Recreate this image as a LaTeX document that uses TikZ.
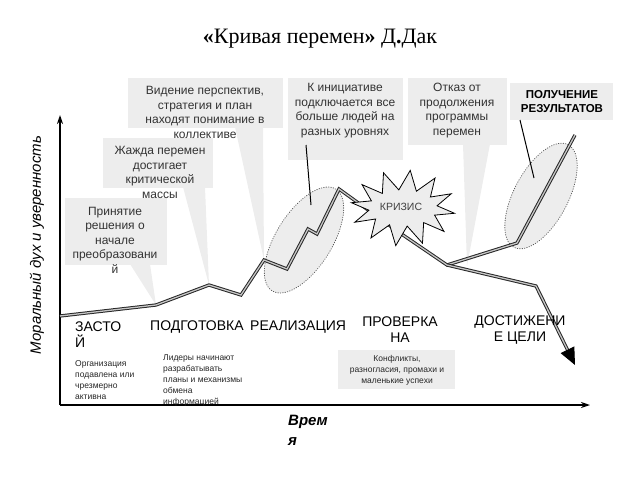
\documentclass[tikz,border=0pt]{standalone}
\usepackage{fontspec}
\setmainfont{Liberation Serif}
\setsansfont{Liberation Sans}
\usetikzlibrary{arrows.meta,calc}
\tikzset{
  callout/.style={fill=gray!14, draw=none},
  ctext/.style={font=\sffamily\fontsize{12}{14.5}\selectfont, text=black!80, align=center, inner sep=0pt},
  phase/.style={font=\sffamily\fontsize{14}{16}\selectfont, align=center, inner sep=0pt},
  smalltext/.style={font=\sffamily\fontsize{8.5}{11}\selectfont, align=left, text=black!85, inner sep=0pt},
  curveline/.style={draw=black!85, line width=1pt, double=gray!45, double distance=1.3pt, line join=miter},
  ell/.style={fill=gray!14, draw=black!65, line width=0.8pt, dash pattern=on 0.6pt off 1.8pt, line cap=round},
  pointer/.style={draw=black, line width=1pt},
  axisline/.style={line width=1.3pt, -{Stealth[length=9pt,width=6pt]}},
}
\begin{document}
\begin{tikzpicture}[x=1pt,y=-1pt]
\useasboundingbox (0,0) rectangle (640,480);
% title
\node[font=\fontsize{22}{24}\selectfont, inner sep=0pt] (title) at (320,39) {{\bfseries «}Кривая перемен{\bfseries »} Д{\bfseries .}Дак};

% curve coordinates
\coordinate (c0) at (60,316);
\coordinate (c1) at (156,305);
\coordinate (c2) at (209,285);
\coordinate (c3) at (241,295);
\coordinate (c4) at (264,260);
\coordinate (c5) at (287,269);
\coordinate (c6) at (308,229);
\coordinate (c7) at (317,234);
\coordinate (c8) at (339,189);
\coordinate (c9) at (400,233);
\coordinate (c10) at (447,265);
\coordinate (u1) at (517,243);
\coordinate (u2) at (575,135);
\coordinate (d1) at (536,286);
\coordinate (tip) at (575,365);

% callout boxes and wedges
\fill[callout] (65,198) rectangle (167,265);
\fill[callout] (103,138) rectangle (213,188);
\fill[callout] (128,78) rectangle (283,128);
\fill[callout] (288,78) rectangle (403,160);
\fill[callout] (408,78) rectangle (507,145);
\fill[callout] (510,83) rectangle (613,120);
\fill[callout] (338,350) rectangle (455,389);
\fill[callout] (130,264) -- (150,264) -- (c1) -- cycle;
\fill[callout] (183,187) -- (205,187) -- (c2) -- cycle;
\fill[callout] (235,127) -- (263,127) -- (c4) -- cycle;
\fill[callout] (463,144) -- (490,144) -- (467,266) -- cycle;

% ellipses
\draw[ell, rotate around={58:(304,240)}] (304,240) ellipse [x radius=60pt, y radius=28pt];
\draw[ell, rotate around={62:(541,196)}] (541,196) ellipse [x radius=58pt, y radius=27pt];

% axes
\coordinate (O) at (60,405);
\coordinate (ytop) at (60,115);
\coordinate (xend) at (590,405);
\draw[axisline] (O) -- (ytop);
\draw[axisline] (O) -- (xend);

% curve
\draw[curveline] (c0) -- (c1) -- (c2) -- (c3) -- (c4) -- (c5) -- (c6) -- (c7) -- (c8) -- (c9) -- (c10) -- (u1) -- (u2);
\draw[curveline] (c10) -- (d1) -- ($(tip)!14pt!(d1)$);
\draw[-{Triangle[length=17pt,width=15pt]}, line width=1pt, black] ($(tip)!16pt!(d1)$) -- (tip);

% crisis star
\draw[fill=gray!14, draw=black, line width=0.8pt, line join=miter]
  plot[samples at={0,15,...,345}, variable=\t]
  ({403 + 52*(0.83+0.17*cos(12*\t))*cos(\t+8)}, {208 + 38*(0.74+0.26*cos(12*\t))*sin(\t+8)}) -- cycle;
\node[font=\sffamily\fontsize{10.5}{12}\selectfont, text=black!75, inner sep=0pt] (crisis) at (401,207) {КРИЗИС};

% black pointer lines
\coordinate (p4a) at (306,145);
\coordinate (p4b) at (311,205);
\coordinate (p6a) at (520,120);
\coordinate (p6b) at (534,178);
\draw[pointer] (p4a) -- (p4b);
\draw[pointer] (p6a) -- (p6b);

% callout texts
\node[ctext] (t1) at (115,240) {Принятие\\решения о\\начале\\преобразовани\\й};
\node[ctext] (t2) at (160,172.5) {Жажда перемен\\достигает\\критической\\массы};
\node[ctext] (t3) at (205,112.5) {Видение перспектив,\\стратегия и план\\находят понимание в\\коллективе};
\node[ctext] (t4) at (345,110.5) {К инициативе\\подключается все\\больше людей на\\разных уровнях};
\node[ctext] (t5) at (457,110.5) {Отказ от\\продолжения\\программы\\перемен};
\node[ctext, font=\sffamily\bfseries\fontsize{11.5}{14}\selectfont, text=black] (t6) at (562,102) {ПОЛУЧЕНИЕ\\РЕЗУЛЬТАТОВ};

% phase labels
\node[phase, align=left, anchor=west] (ph1) at (75,335) {ЗАСТО\\Й};
\node[phase, anchor=west] (ph2) at (150,327) {ПОДГОТОВКА};
\node[phase, anchor=west] (ph3) at (250,327) {РЕАЛИЗАЦИЯ};
\node[phase] (ph4) at (400,330) {ПРОВЕРКА\\НА};
\node[phase] (ph5) at (520,330) {ДОСТИЖЕНИ\\Е ЦЕЛИ};

% small texts
\node[smalltext, anchor=west] (s1) at (75,380) {Организация\\подавлена или\\чрезмерно\\активна};
\node[smalltext, anchor=west] (s2) at (163,380.5) {Лидеры начинают\\разрабатывать\\планы и механизмы\\обмена\\информацией};
\node[smalltext, align=center] (s3) at (397,370) {Конфликты,\\разногласия, промахи и\\маленькие успехи};

% axis labels
\node[rotate=90, font=\sffamily\itshape\fontsize{15}{17}\selectfont, inner sep=0pt] (ylab) at (37,245) {Моральный дух и уверенность};
\node[font=\sffamily\bfseries\itshape\fontsize{15}{20}\selectfont, align=left, anchor=west, inner sep=0pt] (xlab) at (288,430) {Врем\\я};
\end{tikzpicture}
\end{document}
